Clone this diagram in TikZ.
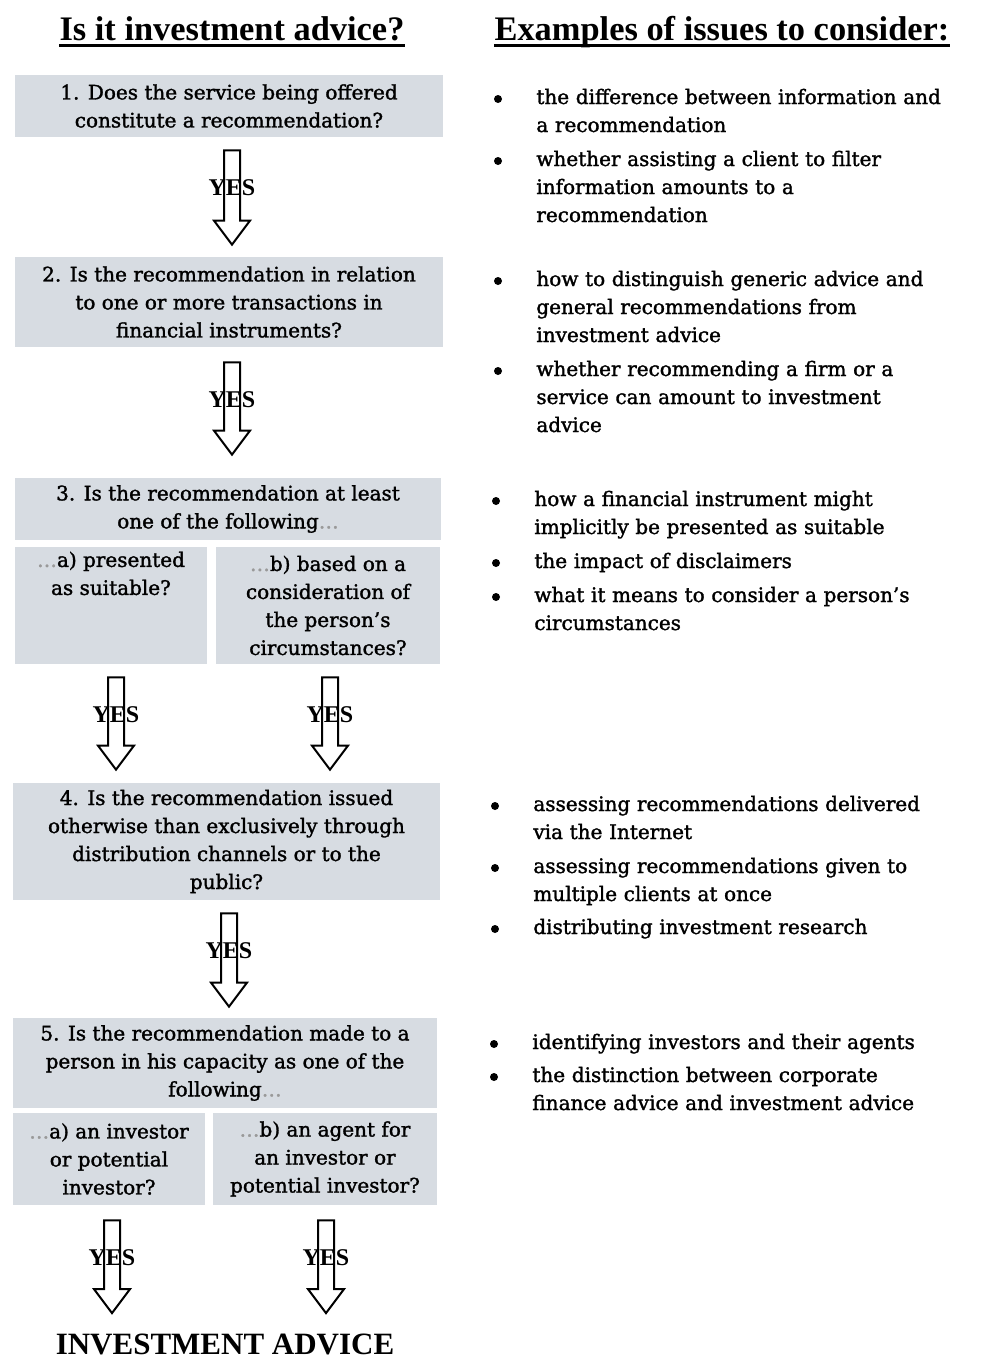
\documentclass[tikz,border=0pt]{standalone}
\usepackage{fontspec}
\setmainfont{DejaVu Serif}[FakeBold=1.5]
\newfontfamily\headfont{Liberation Serif}
\usetikzlibrary{calc}
\definecolor{boxgray}{RGB}{215,220,226}
\newcommand{\grdots}{\textcolor{black!40}{…}}

\begin{document}
\begin{tikzpicture}[x=0.5pt,y=-0.5pt,
  every node/.style={inner sep=0pt, font=\fontsize{10}{14}\selectfont},
  qbox/.style={fill=boxgray, align=center},
  issue/.style={anchor=base west, align=left, text width=230pt},
  head/.style={anchor=base, font=\headfont\bfseries\fontsize{17.2}{20}\selectfont},
  yes/.style={font=\headfont\bfseries\fontsize{12}{14}\selectfont},
  yesarrow/.style={line width=1pt, line join=miter,
    to path={let \p1=(\tikztostart), \p2=(\tikztotarget) in
      (\x1-4pt,\y1) -- (\x1+4pt,\y1) -- (\x1+4pt,\y2+12pt) -- (\x1+9pt,\y2+12pt)
      -- (\x1,\y2) -- (\x1-9pt,\y2+12pt) -- (\x1-4pt,\y2+12pt) -- cycle}}]

 	\path[use as bounding box, fill=white] (0,0) rectangle (1000,1360);

 	% headings
 	\node[head] (h1) at (232,40) {Is it investment advice?};
 	\node[head] (h2) at (722,40) {Examples of issues to consider:};
 	\draw[line width=1.5pt] ([yshift=-2.5pt]h1.base west) -- ([yshift=-2.5pt]h1.base east);
 	\draw[line width=1.5pt] ([yshift=-2.5pt]h2.base west) -- ([yshift=-2.5pt]h2.base east);

 	% questions
 	\node[qbox, minimum width=214pt, minimum height=31pt] (q1) at (229,106)
 		{1. Does the service being offered\\constitute a recommendation?};
 	\node[qbox, minimum width=214pt, minimum height=45pt] (q2) at (229,302)
 		{2. Is the recommendation in relation\\to one or more transactions in\\financial instruments?};
 	\node[qbox, minimum width=213pt, minimum height=31pt] (q3) at (228,509)
 		{3. Is the recommendation at least\\one of the following\grdots};
 	\node[qbox, minimum width=96pt, minimum height=58.5pt] (q3a) at (111,605.5)
 		{\grdots a) presented\\as suitable?\\\strut\\\strut};
 	\node[qbox, minimum width=112pt, minimum height=58.5pt] (q3b) at (328,605.5)
 		{\grdots b) based on a\\consideration of\\the person’s\\circumstances?};
 	\node[qbox, minimum width=213.5pt, minimum height=58.5pt] (q4) at (226.5,841.5)
 		{4. Is the recommendation issued\\otherwise than exclusively through\\distribution channels or to the\\public?};
 	\node[qbox, minimum width=212pt, minimum height=45pt] (q5) at (225,1063)
 		{5. Is the recommendation made to a\\person in his capacity as one of the\\following\grdots};
 	\node[qbox, minimum width=96pt, minimum height=46pt] (q5a) at (109,1159)
 		{\grdots a) an investor\\or potential\\investor?};
 	\node[qbox, minimum width=112pt, minimum height=46pt] (q5b) at (325,1159)
 		{\grdots b) an agent for\\an investor or\\potential investor?};
 	\node[anchor=base, font=\headfont\bfseries\fontsize{15.5}{18}\selectfont] (adv) at (225,1354)
 		{INVESTMENT ADVICE};

 	% yes arrows
 	\coordinate (t1) at ($(q1.south)+(3,13)$);
 	\coordinate (e1) at ($(q2.north)+(3,-12)$);
 	\coordinate (t2) at ($(q2.south)+(3,15)$);
 	\coordinate (e2) at ($(q3.north)+(4,-23)$);
 	\coordinate (t3) at ($(q3a.south)+(5,13)$);
 	\coordinate (e3) at ($(q3a.south |- q4.north)+(5,-13)$);
 	\coordinate (t4) at ($(q3b.south)+(2,13)$);
 	\coordinate (e4) at ($(q3b.south |- q4.north)+(2,-13)$);
 	\coordinate (t5) at ($(q4.south)+(2.5,13)$);
 	\coordinate (e5) at ($(q5.north)+(4,-11)$);
 	\coordinate (t6) at ($(q5a.south)+(3,15)$);
 	\coordinate (e6) at ($(q5a.south |- adv.north)+(3,-20)$);
 	\coordinate (t7) at ($(q5b.south)+(1,15)$);
 	\coordinate (e7) at ($(q5b.south |- adv.north)+(1,-20)$);

 	\foreach \i in {1,...,7} {
 		\draw[yesarrow] (t\i) to (e\i);
 		\node[yes] (y\i) at ($(t\i)!.4!(e\i)$) {YES};
 	}

 	% issues
 	\node[issue] (i1) at (536,104) {the difference between information and\\a recommendation};
 	\node[issue] (i2) at (536,166) {whether assisting a client to filter\\information amounts to a\\recommendation};
 	\node[issue] (i3) at (536,286) {how to distinguish generic advice and\\general recommendations from\\investment advice};
 	\node[issue] (i4) at (536,376) {whether recommending a firm or a\\service can amount to investment\\advice};
 	\node[issue] (i5) at (534,506) {how a financial instrument might\\implicitly be presented as suitable};
 	\node[issue] (i6) at (534,568) {the impact of disclaimers};
 	\node[issue] (i7) at (534,602) {what it means to consider a person’s\\circumstances};
 	\node[issue] (i8) at (533,811) {assessing recommendations delivered\\via the Internet};
 	\node[issue] (i9) at (533,873) {assessing recommendations given to\\multiple clients at once};
 	\node[issue] (i10) at (533,934) {distributing investment research};
 	\node[issue] (i11) at (532,1049) {identifying investors and their agents};
 	\node[issue] (i12) at (532,1082) {the distinction between corporate\\finance advice and investment advice};

 	\foreach \i in {1,...,12}
 		\fill ([shift={(-38,-5)}]i\i.base west) circle (2pt);

\end{tikzpicture}
\end{document}
